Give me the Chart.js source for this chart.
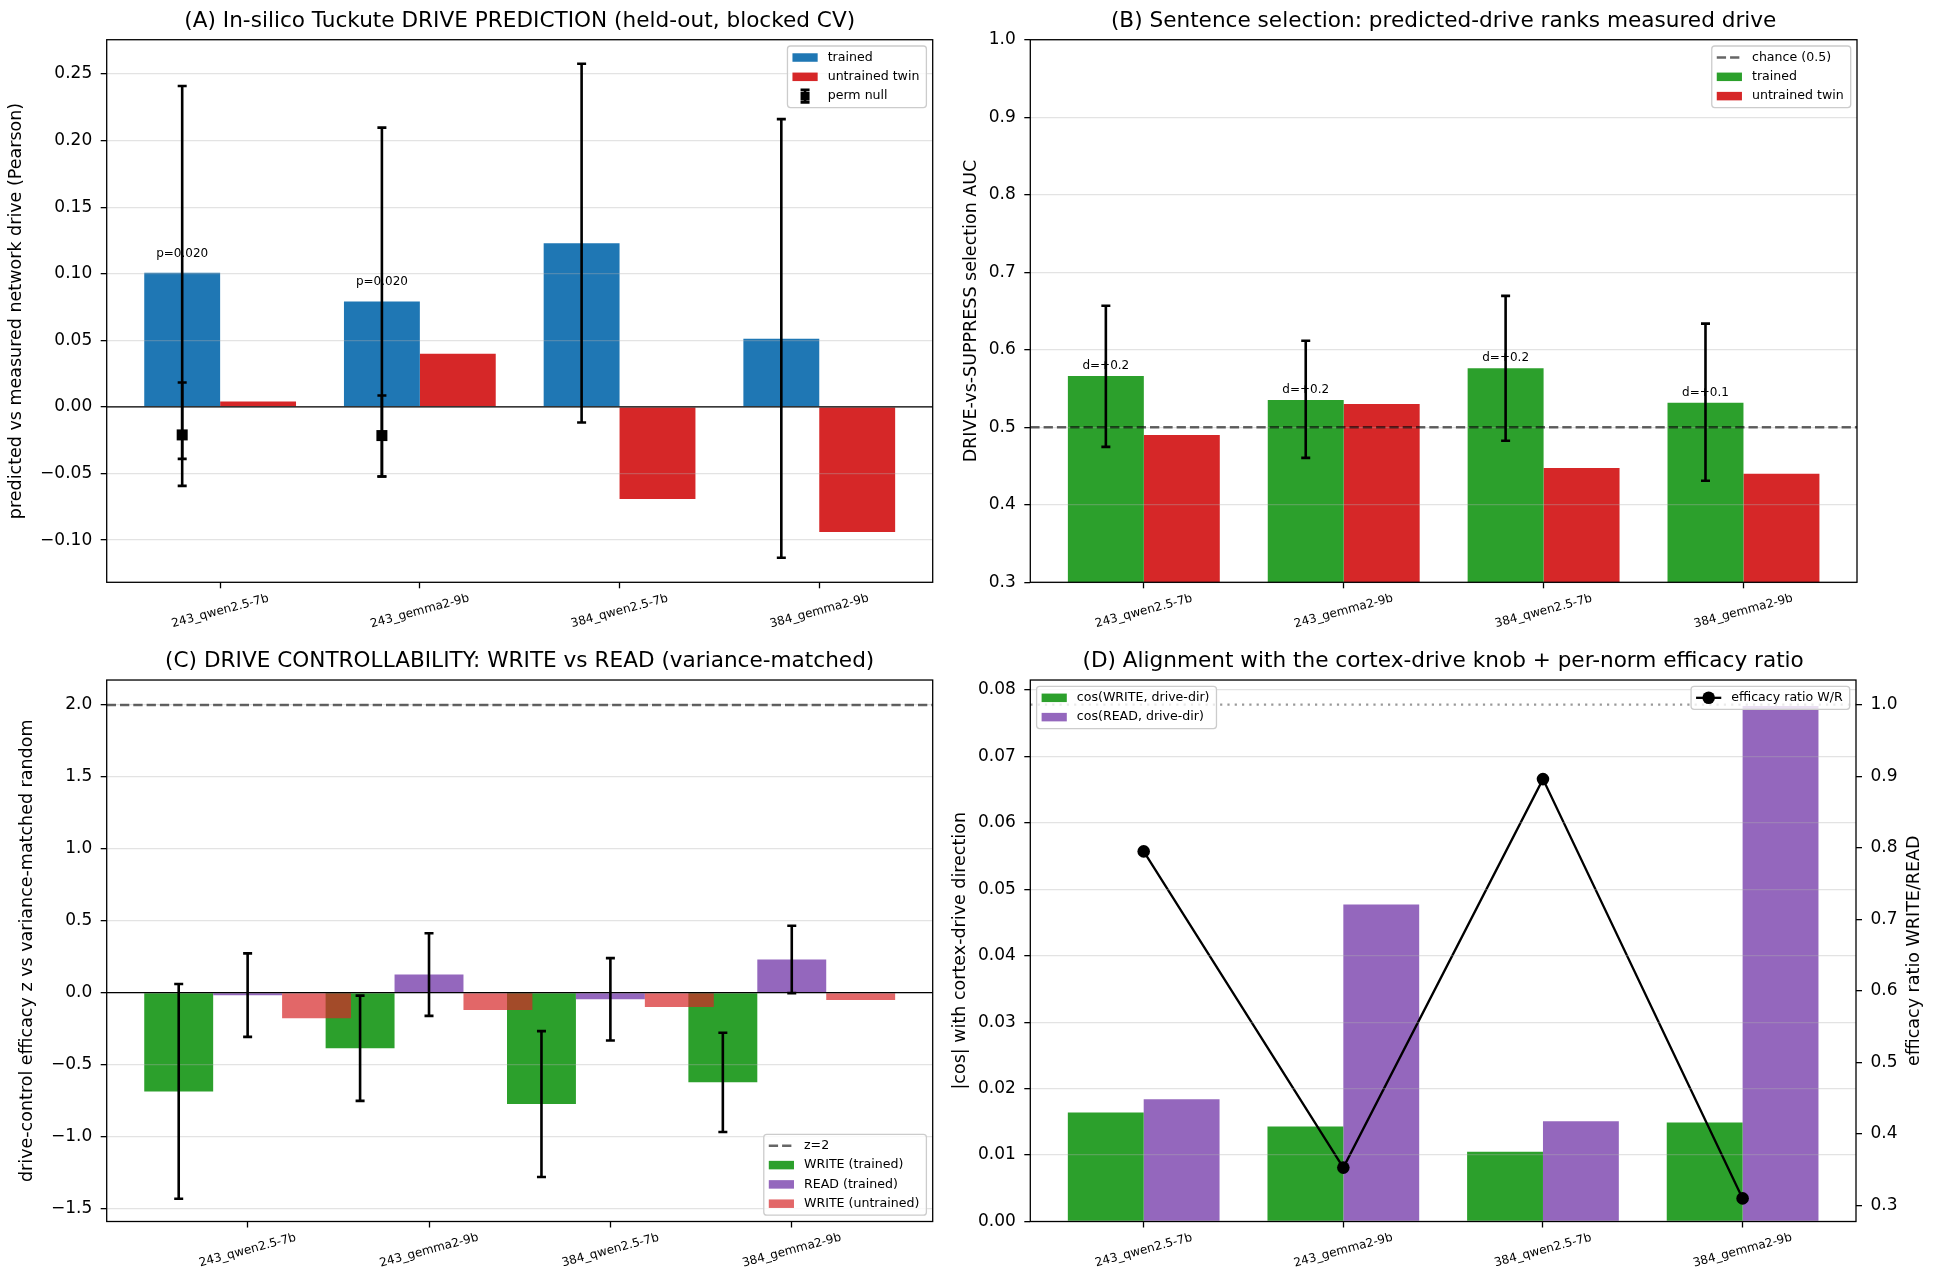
<!DOCTYPE html>
<html>
<head>
<meta charset="utf-8">
<title>Drive prediction panels</title>
<script src="https://cdn.jsdelivr.net/npm/chart.js@4.4.1/dist/chart.umd.min.js"></script>
<style>
  html, body { margin: 0; padding: 0; background: #fff; }
  body { width: 1936px; height: 1283px; position: relative; overflow: hidden; }
  canvas { position: absolute; }
</style>
</head>
<body>
<canvas id="panelA" width="960" height="640" style="left:0px;top:0px;width:960px;height:640px"></canvas>
<canvas id="panelB" width="996" height="640" style="left:940px;top:0px;width:996px;height:640px"></canvas>
<canvas id="panelC" width="960" height="643" style="left:0px;top:640px;width:960px;height:643px"></canvas>
<canvas id="panelD" width="996" height="643" style="left:940px;top:640px;width:996px;height:643px"></canvas>
<script>
const categories = ["243_qwen2.5-7b", "243_gemma2-9b", "384_qwen2.5-7b", "384_gemma2-9b"];

// (A) held-out drive prediction
const predTrained = [0.1007, 0.0792, 0.1229, 0.0513];
const predUntrained = [0.004, 0.0399, -0.0691, -0.094];
const predCiLow = [-0.0593, -0.0522, -0.0117, -0.1133];
const predCiHigh = [0.241, 0.2098, 0.2577, 0.2162];
const permNullMean = [-0.021, -0.0215, null, null];
const permNullLow = [-0.039, -0.0522, null, null];
const permNullHigh = [0.0184, 0.0086, null, null];
const predPLabels = ["p=0.020", "p=0.020", "", ""];
const predTicks = [-0.1, -0.05, 0, 0.05, 0.1, 0.15, 0.2, 0.25];

// (B) sentence selection AUC
const aucTrained = [0.5663, 0.5353, 0.5763, 0.5316];
const aucUntrained = [0.49, 0.53, 0.4474, 0.44];
const aucCiLow = [0.4747, 0.4605, 0.4826, 0.431];
const aucCiHigh = [0.6568, 0.6116, 0.6695, 0.6337];
const aucDLabels = ["d=+0.2", "d=+0.2", "d=+0.2", "d=+0.1"];
const aucChance = 0.5;
const aucTicks = [0.3, 0.4, 0.5, 0.6, 0.7, 0.8, 0.9, 1.0];

// (C) controllability z-scores
const writeTrained = [-0.686, -0.386, -0.774, -0.623];
const writeTrainedErr = [0.746, 0.366, 0.507, 0.345];
const readTrained = [-0.017, 0.126, -0.046, 0.231];
const readTrainedErr = [0.29, 0.287, 0.286, 0.234];
const writeUntrained = [-0.177, -0.12, -0.1, -0.051];
const zThreshold = 2.0;
const ctrlTicks = [-1.5, -1.0, -0.5, 0, 0.5, 1.0, 1.5, 2.0];

// (D) alignment with drive direction
const cosWrite = [0.0164, 0.0143, 0.0105, 0.0149];
const cosRead = [0.0184, 0.0477, 0.0151, 0.0776];
const efficacyRatio = [0.795, 0.353, 0.896, 0.31];
const ratioReference = 1.0;
const cosTicks = [0, 0.01, 0.02, 0.03, 0.04, 0.05, 0.06, 0.07, 0.08];
const ratioTicks = [0.3, 0.4, 0.5, 0.6, 0.7, 0.8, 0.9, 1.0];

const FONT = "'DejaVu Sans', sans-serif";
Chart.defaults.font.family = FONT;
Chart.defaults.color = "#000";
Chart.defaults.animation = false;
Chart.defaults.plugins.legend.display = false;
Chart.defaults.plugins.tooltip.enabled = false;

const BLUE = "#1f77b4", RED = "#d62728", GREEN = "#2ca02c", PURPLE = "#9467bd";
const RED_LIGHT = "rgba(214, 39, 40, 0.7)";
const REFLINE = "rgba(0, 0, 0, 0.6)";

// tick text like matplotlib (unicode minus)
const fmt = (d) => (v) => (v < -1e-9 ? "\u2212" : "") + Math.abs(v).toFixed(d);
const fixedTicks = (list) => (axis) => { axis.ticks = list.map((v) => ({ value: v })); };
const toBars = (vals, shift) => vals.map((v, i) => ({ x: i + (shift || 0), y: v }));

function xAxis(min, max, height, display) {
  return {
    type: "linear", min: min, max: max, bounds: "data", offset: false, display: display,
    afterBuildTicks: fixedTicks(categories.map((c, i) => i)),
    afterFit: (s) => { if (display) s.height = height; },
    ticks: { display: false },
    grid: { drawOnChartArea: false, drawTicks: true, tickLength: 6, tickWidth: 1.3, tickColor: "#000", offset: false },
    border: { display: false },
  };
}

function yAxis(min, max, ticks, decimals, width, title, titlePad, position, grid) {
  return {
    type: "linear", position: position || "left", min: min, max: max, bounds: "data", beginAtZero: false,
    afterBuildTicks: fixedTicks(ticks),
    afterFit: (s) => { s.width = width; },
    ticks: { callback: fmt(decimals), font: { size: 17 }, padding: 8.5, autoSkip: false, color: "#000" },
    grid: {
      color: "rgba(176,176,176,0.35)", lineWidth: 1.3, z: 1, drawOnChartArea: grid !== false,
      tickLength: 6, tickWidth: 1.3, tickColor: "#000",
    },
    border: { display: false },
    title: title
      ? { display: true, text: title, font: { size: 17.5 }, color: "#000", padding: { top: titlePad, bottom: 0 } }
      : { display: false },
  };
}

function panelTitle(text, top) {
  return {
    display: true, text: text, fullSize: false, color: "#000",
    font: { size: 21.6, weight: "normal", lineHeight: 1.2 },
    padding: { top: top, bottom: 5.5 },
  };
}

function barSet(label, data, color, extra) {
  return Object.assign({
    label: label, data: data, backgroundColor: color, borderWidth: 0,
    categoryPercentage: 0.76, barPercentage: 1.0,
  }, extra || {});
}

// ---------- drawing helpers (all through the chart scales) ----------
function hLine(chart, ctx, scaleId, value, color, width, dash) {
  const a = chart.chartArea;
  const y = chart.scales[scaleId].getPixelForValue(value);
  ctx.save();
  ctx.strokeStyle = color;
  ctx.lineWidth = width;
  ctx.setLineDash(dash || []);
  ctx.beginPath();
  ctx.moveTo(a.left, y);
  ctx.lineTo(a.right, y);
  ctx.stroke();
  ctx.restore();
}

function errorBar(ctx, x, y1, y2) {
  ctx.beginPath();
  ctx.moveTo(x, y1); ctx.lineTo(x, y2);
  ctx.moveTo(x - 4.5, y1); ctx.lineTo(x + 4.5, y1);
  ctx.moveTo(x - 4.5, y2); ctx.lineTo(x + 4.5, y2);
  ctx.stroke();
}

function errorBars(chart, ctx, dsIndex, low, high) {
  const meta = chart.getDatasetMeta(dsIndex);
  const ys = chart.scales.y;
  ctx.save();
  ctx.strokeStyle = "#000";
  ctx.lineWidth = 2.6;
  meta.data.forEach((bar, i) => {
    if (low[i] == null) return;
    errorBar(ctx, bar.x, ys.getPixelForValue(low[i]), ys.getPixelForValue(high[i]));
  });
  ctx.restore();
}

function barLabels(chart, ctx, dsIndex, values, labels, offset) {
  const meta = chart.getDatasetMeta(dsIndex);
  const ys = chart.scales.y;
  ctx.save();
  ctx.font = "12px " + FONT;
  ctx.fillStyle = "#000";
  ctx.textAlign = "center";
  ctx.textBaseline = "bottom";
  meta.data.forEach((bar, i) => {
    if (labels[i]) ctx.fillText(labels[i], bar.x, ys.getPixelForValue(values[i] + offset));
  });
  ctx.restore();
}

function xLabels(chart, ctx) {
  const xs = chart.scales.x;
  const a = chart.chartArea;
  ctx.save();
  ctx.font = "12px " + FONT;
  ctx.fillStyle = "#000";
  ctx.textAlign = "center";
  ctx.textBaseline = "middle";
  categories.forEach((c, i) => {
    ctx.save();
    ctx.translate(xs.getPixelForValue(i), a.bottom + 29);
    ctx.rotate(-15 * Math.PI / 180);
    ctx.fillText(c, 0, 0);
    ctx.restore();
  });
  ctx.restore();
}

function frame(chart, ctx) {
  const a = chart.chartArea;
  ctx.save();
  ctx.strokeStyle = "#000";
  ctx.lineWidth = 1.3;
  ctx.strokeRect(a.left, a.top, a.right - a.left, a.bottom - a.top);
  ctx.restore();
}

function roundBox(ctx, x, y, w, h, r) {
  ctx.beginPath();
  ctx.moveTo(x + r, y);
  ctx.arcTo(x + w, y, x + w, y + h, r);
  ctx.arcTo(x + w, y + h, x, y + h, r);
  ctx.arcTo(x, y + h, x, y, r);
  ctx.arcTo(x, y, x + w, y, r);
  ctx.closePath();
}

// matplotlib-like legend box inside the axes
function legend(chart, ctx, items, loc) {
  const a = chart.chartArea;
  const fs = 12.6, bp = 5, rowH = 13, ls = 6.3, hl = 25.2, htp = 10, pad = 6.3;
  ctx.save();
  ctx.font = fs + "px " + FONT;
  const tw = Math.max(...items.map((it) => ctx.measureText(it.label).width));
  const w = bp * 2 + hl + htp + tw + 2;
  const h = bp * 2 + items.length * rowH + (items.length - 1) * ls;
  const x = loc.indexOf("right") >= 0 ? a.right - pad - w : a.left + pad;
  const y = loc.indexOf("upper") >= 0 ? a.top + pad : a.bottom - pad - h;
  roundBox(ctx, x, y, w, h, 3);
  ctx.fillStyle = "rgba(255,255,255,0.8)";
  ctx.fill();
  ctx.strokeStyle = "#cccccc";
  ctx.lineWidth = 1.3;
  ctx.stroke();
  items.forEach((it, k) => {
    const cy = y + bp + rowH / 2 + k * (rowH + ls);
    const hx = x + bp;
    const mid = hx + hl / 2;
    if (it.kind === "patch") {
      ctx.fillStyle = it.color;
      ctx.fillRect(hx, cy - 4.25, hl, 8.5);
    } else if (it.kind === "dash") {
      ctx.save();
      ctx.strokeStyle = it.color;
      ctx.lineWidth = 2.5;
      ctx.setLineDash([9.3, 4]);
      ctx.beginPath(); ctx.moveTo(hx, cy); ctx.lineTo(hx + hl, cy); ctx.stroke();
      ctx.restore();
    } else if (it.kind === "errorbar") {
      ctx.save();
      ctx.strokeStyle = "#000";
      ctx.lineWidth = 2.6;
      errorBar(ctx, mid, cy - 6.3, cy + 6.3);
      ctx.fillStyle = "#000";
      ctx.fillRect(mid - 4.5, cy - 4.5, 9, 9);
      ctx.restore();
    } else if (it.kind === "linemarker") {
      ctx.save();
      ctx.strokeStyle = "#000";
      ctx.lineWidth = 2.3;
      ctx.beginPath(); ctx.moveTo(hx, cy); ctx.lineTo(hx + hl, cy); ctx.stroke();
      ctx.fillStyle = "#000";
      ctx.beginPath(); ctx.arc(mid, cy, 6.3, 0, Math.PI * 2); ctx.fill();
      ctx.restore();
    }
    ctx.fillStyle = "#000";
    ctx.textAlign = "left";
    ctx.textBaseline = "middle";
    ctx.fillText(it.label, hx + hl + htp, cy);
  });
  ctx.restore();
}

function decor(drawFn) {
  return { id: "decor", afterDraw(chart) { drawFn(chart, chart.ctx); } };
}

const baseOptions = { responsive: false, maintainAspectRatio: false, animation: false };

// ---------- (A) ----------
new Chart(document.getElementById("panelA"), {
  type: "bar",
  data: {
    datasets: [
      barSet("trained", toBars(predTrained), BLUE),
      barSet("untrained twin", toBars(predUntrained), RED),
    ],
  },
  options: Object.assign({}, baseOptions, {
    layout: { padding: { left: 0, right: 27.3, top: 0, bottom: 0 } },
    plugins: { title: panelTitle("(A) In-silico Tuckute DRIVE PREDICTION (held-out, blocked CV)", 8.3) },
    scales: {
      x: xAxis(-0.568, 3.568, 57.7, true),
      y: yAxis(-0.1317, 0.2758, predTicks, 2, 106.7, "predicted vs measured network drive (Pearson)", 5.8),
    },
  }),
  plugins: [decor((chart, ctx) => {
    hLine(chart, ctx, "y", 0, "#000", 1.3);
    barLabels(chart, ctx, 0, predTrained, predPLabels, 0.01);
    errorBars(chart, ctx, 0, predCiLow, predCiHigh);
    // permutation null: square marker with its range, on the trained bar
    const meta = chart.getDatasetMeta(0), ys = chart.scales.y;
    ctx.save();
    ctx.strokeStyle = "#000";
    ctx.fillStyle = "#000";
    ctx.lineWidth = 2.6;
    meta.data.forEach((bar, i) => {
      if (permNullMean[i] == null) return;
      errorBar(ctx, bar.x, ys.getPixelForValue(permNullLow[i]), ys.getPixelForValue(permNullHigh[i]));
      const py = ys.getPixelForValue(permNullMean[i]);
      ctx.fillRect(bar.x - 5.5, py - 5.5, 11, 11);
    });
    ctx.restore();
    xLabels(chart, ctx);
    frame(chart, ctx);
    legend(chart, ctx, [
      { kind: "patch", color: BLUE, label: "trained" },
      { kind: "patch", color: RED, label: "untrained twin" },
      { kind: "errorbar", label: "perm null" },
    ], "upper right");
  })],
});

// ---------- (B) ----------
new Chart(document.getElementById("panelB"), {
  type: "bar",
  data: {
    datasets: [
      barSet("trained", toBars(aucTrained), GREEN),
      barSet("untrained twin", toBars(aucUntrained), RED),
    ],
  },
  options: Object.assign({}, baseOptions, {
    layout: { padding: { left: 0, right: 79, top: 0, bottom: 0 } },
    plugins: { title: panelTitle("(B) Sentence selection: predicted-drive ranks measured drive", 8.3) },
    scales: {
      x: xAxis(-0.568, 3.568, 57.7, true),
      y: yAxis(0.3, 1.0, aucTicks, 1, 90.3, "DRIVE-vs-SUPPRESS selection AUC", 20.9),
    },
  }),
  plugins: [decor((chart, ctx) => {
    hLine(chart, ctx, "y", aucChance, REFLINE, 2.5, [9.3, 4]);
    barLabels(chart, ctx, 0, aucTrained, aucDLabels, 0.005);
    errorBars(chart, ctx, 0, aucCiLow, aucCiHigh);
    xLabels(chart, ctx);
    frame(chart, ctx);
    legend(chart, ctx, [
      { kind: "dash", color: REFLINE, label: "chance (0.5)" },
      { kind: "patch", color: GREEN, label: "trained" },
      { kind: "patch", color: RED, label: "untrained twin" },
    ], "upper right");
  })],
});

// ---------- (C) ----------
// three bars per model, each on its own (identical) x axis so the untrained bar can overlap the next group
const ctrlBar = { categoryPercentage: 0.38, barPercentage: 1.0, grouped: false };
new Chart(document.getElementById("panelC"), {
  type: "bar",
  data: {
    datasets: [
      barSet("WRITE (trained)", toBars(writeTrained, -0.38), GREEN, Object.assign({ xAxisID: "x", order: 3 }, ctrlBar)),
      barSet("READ (trained)", toBars(readTrained), PURPLE, Object.assign({ xAxisID: "xRead", order: 2 }, ctrlBar)),
      barSet("WRITE (untrained)", toBars(writeUntrained, 0.38), RED_LIGHT, Object.assign({ xAxisID: "xUntrained", order: 1 }, ctrlBar)),
    ],
  },
  options: Object.assign({}, baseOptions, {
    layout: { padding: { left: 0, right: 27.3, top: 0, bottom: 0 } },
    plugins: { title: panelTitle("(C) DRIVE CONTROLLABILITY: WRITE vs READ (variance-matched)", 8.6) },
    scales: {
      x: xAxis(-0.777, 3.777, 61.5, true),
      xRead: xAxis(-0.777, 3.777, 0, false),
      xUntrained: xAxis(-0.777, 3.777, 0, false),
      y: yAxis(-1.59, 2.173, ctrlTicks, 1, 106.7, "drive-control efficacy z vs variance-matched random", 16.5),
    },
  }),
  plugins: [decor((chart, ctx) => {
    hLine(chart, ctx, "y", zThreshold, REFLINE, 2.5, [9.3, 4]);
    hLine(chart, ctx, "y", 0, "#000", 1.3);
    errorBars(chart, ctx, 0, writeTrained.map((v, i) => v - writeTrainedErr[i]), writeTrained.map((v, i) => v + writeTrainedErr[i]));
    errorBars(chart, ctx, 1, readTrained.map((v, i) => v - readTrainedErr[i]), readTrained.map((v, i) => v + readTrainedErr[i]));
    xLabels(chart, ctx);
    frame(chart, ctx);
    legend(chart, ctx, [
      { kind: "dash", color: REFLINE, label: "z=2" },
      { kind: "patch", color: GREEN, label: "WRITE (trained)" },
      { kind: "patch", color: PURPLE, label: "READ (trained)" },
      { kind: "patch", color: RED_LIGHT, label: "WRITE (untrained)" },
    ], "lower right");
  })],
});

// ---------- (D) ----------
new Chart(document.getElementById("panelD"), {
  type: "bar",
  data: {
    datasets: [
      barSet("cos(WRITE, drive-dir)", toBars(cosWrite), GREEN),
      barSet("cos(READ, drive-dir)", toBars(cosRead), PURPLE),
      {
        type: "line", label: "efficacy ratio W/R", data: toBars(efficacyRatio), yAxisID: "y2", order: -1,
        borderColor: "#000", borderWidth: 2.3, tension: 0, fill: false,
        pointRadius: 6.3, pointBackgroundColor: "#000", pointBorderWidth: 0, pointHoverRadius: 6.3,
      },
    ],
  },
  options: Object.assign({}, baseOptions, {
    layout: { padding: { left: 0, right: 0, top: 0, bottom: 0 } },
    plugins: { title: panelTitle("(D) Alignment with the cortex-drive knob + per-norm efficacy ratio", 8.6) },
    scales: {
      x: xAxis(-0.568, 3.568, 61.5, true),
      y: yAxis(0, 0.0815, cosTicks, 2, 90.3, "|cos| with cortex-drive direction", 10.1),
      y2: yAxis(0.2777, 1.0345, ratioTicks, 1, 80, null, 0, "right", false),
    },
  }),
  plugins: [decor((chart, ctx) => {
    hLine(chart, ctx, "y2", ratioReference, "rgba(128,128,128,0.8)", 2.2, [2.2, 5.1]);
    xLabels(chart, ctx);
    frame(chart, ctx);
    // right axis label reads bottom-to-top like the left one
    const a = chart.chartArea;
    ctx.save();
    ctx.font = "17.5px " + FONT;
    ctx.fillStyle = "#000";
    ctx.textAlign = "center";
    ctx.textBaseline = "middle";
    ctx.translate(a.right + 58, (a.top + a.bottom) / 2);
    ctx.rotate(-Math.PI / 2);
    ctx.fillText("efficacy ratio WRITE/READ", 0, 0);
    ctx.restore();
    legend(chart, ctx, [
      { kind: "patch", color: GREEN, label: "cos(WRITE, drive-dir)" },
      { kind: "patch", color: PURPLE, label: "cos(READ, drive-dir)" },
    ], "upper left");
    legend(chart, ctx, [
      { kind: "linemarker", label: "efficacy ratio W/R" },
    ], "upper right");
  })],
});
</script>
</body>
</html>
